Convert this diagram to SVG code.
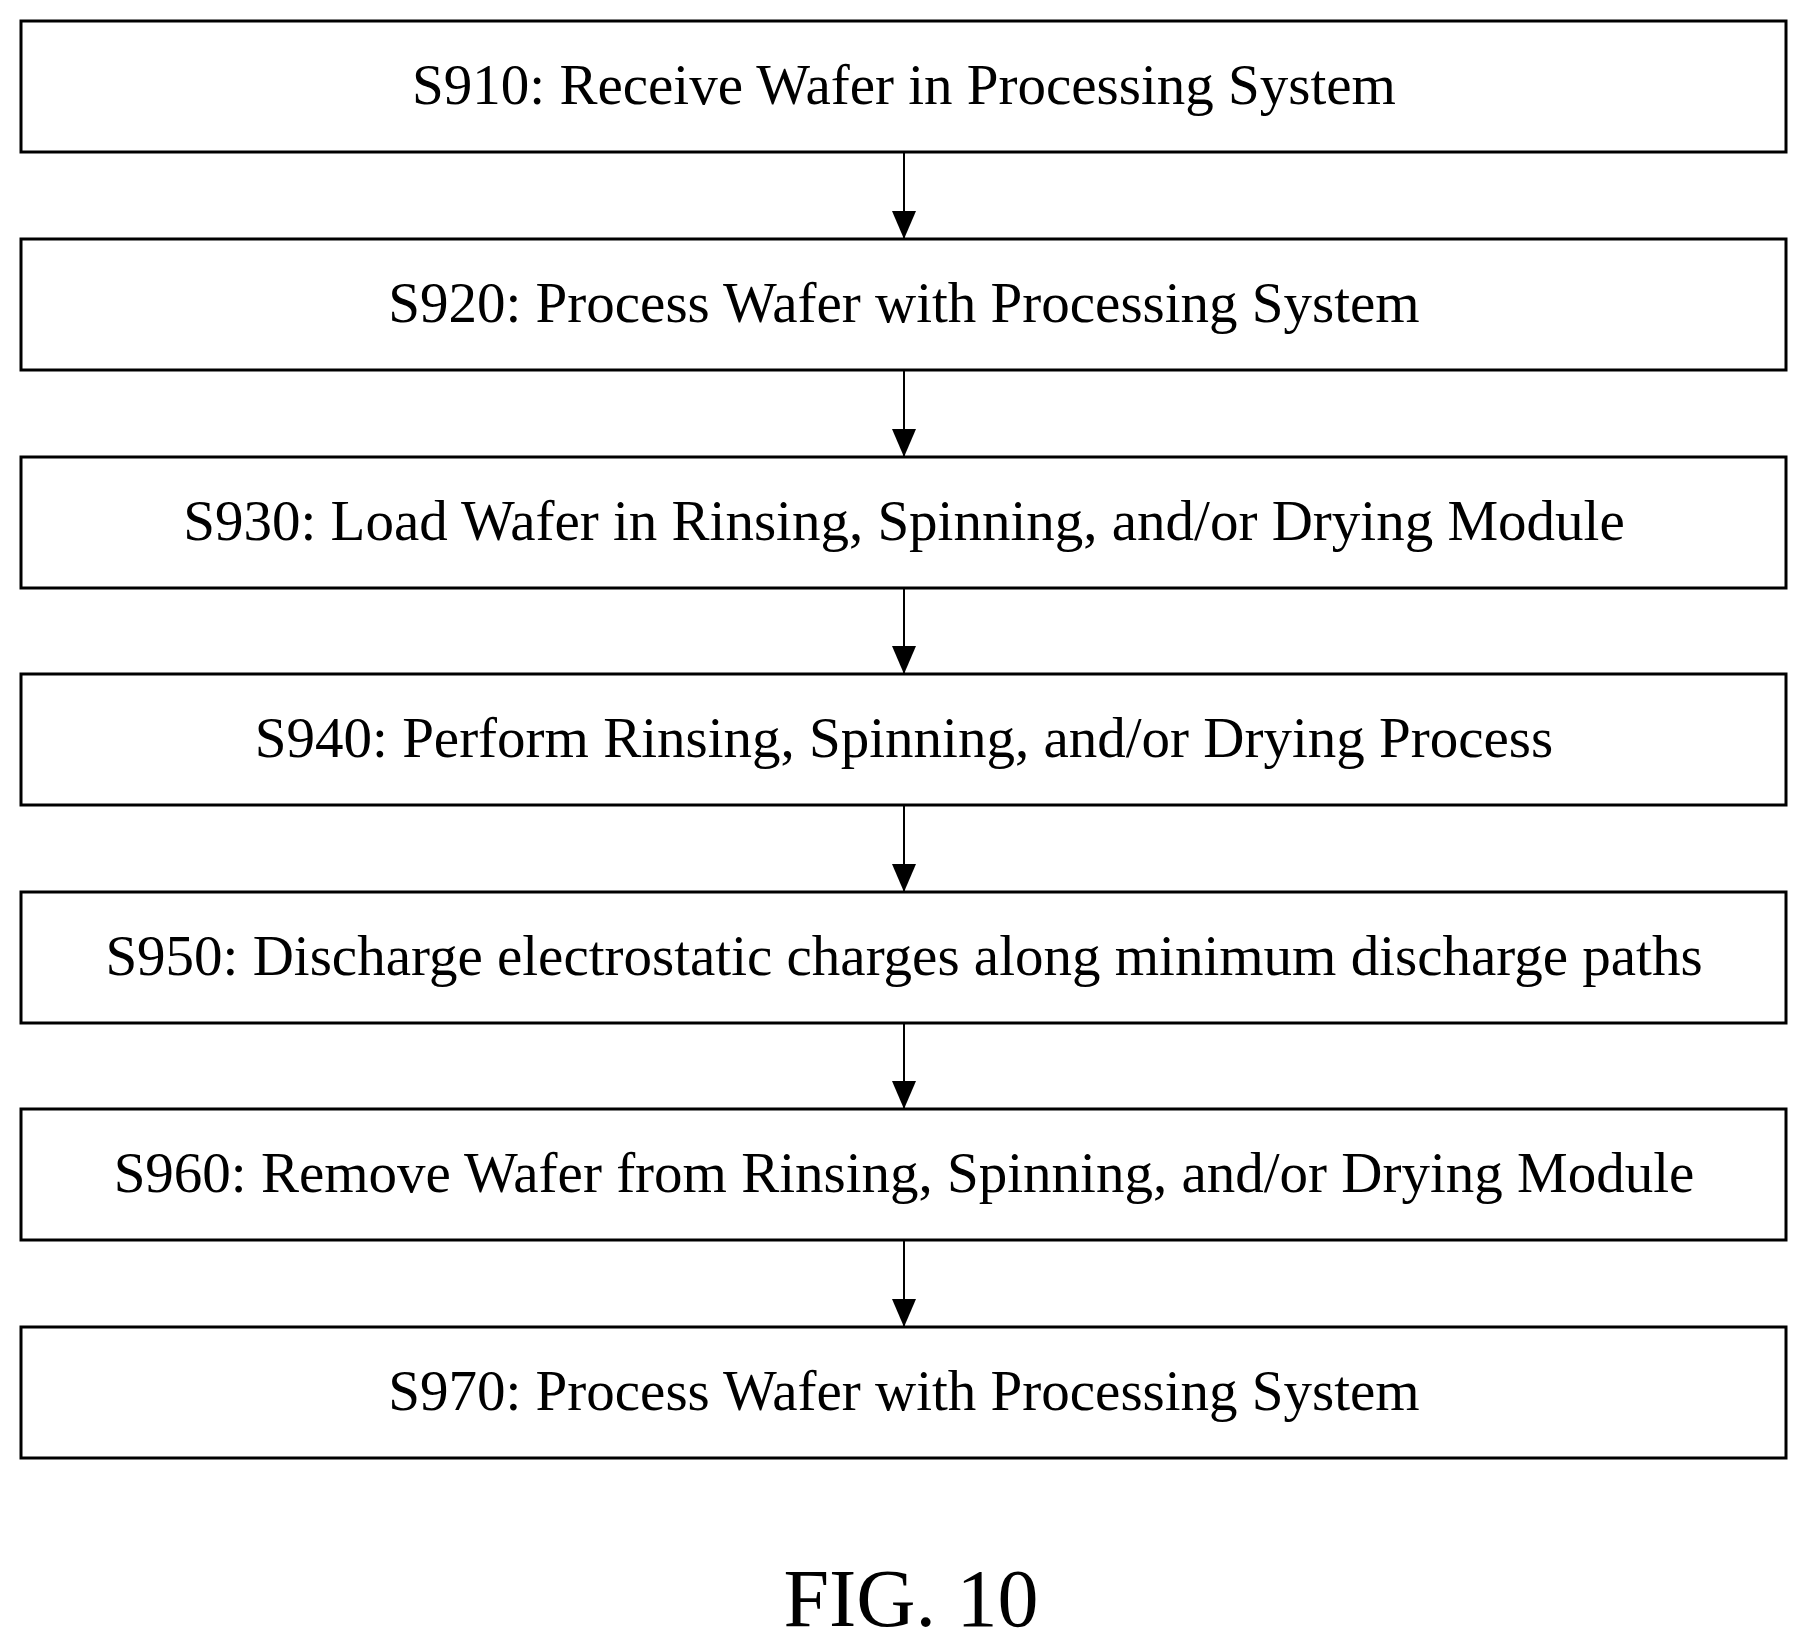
<svg xmlns="http://www.w3.org/2000/svg" width="1808" height="1646" viewBox="0 0 1808 1646">
<style>
rect{fill:#fff;stroke:#000;stroke-width:3}
text{font-family:"Liberation Serif","Times New Roman",serif;font-size:57px;text-anchor:middle;fill:#000}
.c{stroke:#000;stroke-width:2;fill:none}
</style>
<defs><marker id="a" markerWidth="28" markerHeight="24" refX="28" refY="12" orient="auto" markerUnits="userSpaceOnUse"><path d="M0,0 L28,12 L0,24 Z" fill="#000"/></marker></defs>
<rect width="1808" height="1646" style="stroke:none"/>
<g id="n1"><rect x="21" y="21" width="1765" height="131"/><text x="904" y="104">S910: Receive Wafer in Processing System</text></g>
<g id="n2"><rect x="21" y="239" width="1765" height="131"/><text x="904" y="322">S920: Process Wafer with Processing System</text></g>
<g id="n3"><rect x="21" y="457" width="1765" height="131"/><text x="904" y="540">S930: Load Wafer in Rinsing, Spinning, and/or Drying Module</text></g>
<g id="n4"><rect x="21" y="674" width="1765" height="131"/><text x="904" y="757">S940: Perform Rinsing, Spinning, and/or Drying Process</text></g>
<g id="n5"><rect x="21" y="892" width="1765" height="131"/><text x="904" y="975">S950: Discharge electrostatic charges along minimum discharge paths</text></g>
<g id="n6"><rect x="21" y="1109" width="1765" height="131"/><text x="904" y="1192">S960: Remove Wafer from Rinsing, Spinning, and/or Drying Module</text></g>
<g id="n7"><rect x="21" y="1327" width="1765" height="131"/><text x="904" y="1410">S970: Process Wafer with Processing System</text></g>
<g id="connectors">
<line class="c" x1="904" y1="152" x2="904" y2="239" marker-end="url(#a)"/>
<line class="c" x1="904" y1="370" x2="904" y2="457" marker-end="url(#a)"/>
<line class="c" x1="904" y1="588" x2="904" y2="674" marker-end="url(#a)"/>
<line class="c" x1="904" y1="805" x2="904" y2="892" marker-end="url(#a)"/>
<line class="c" x1="904" y1="1023" x2="904" y2="1109" marker-end="url(#a)"/>
<line class="c" x1="904" y1="1240" x2="904" y2="1327" marker-end="url(#a)"/>
</g>
<text x="911" y="1626" style="font-size:82px">FIG. 10</text>
</svg>
